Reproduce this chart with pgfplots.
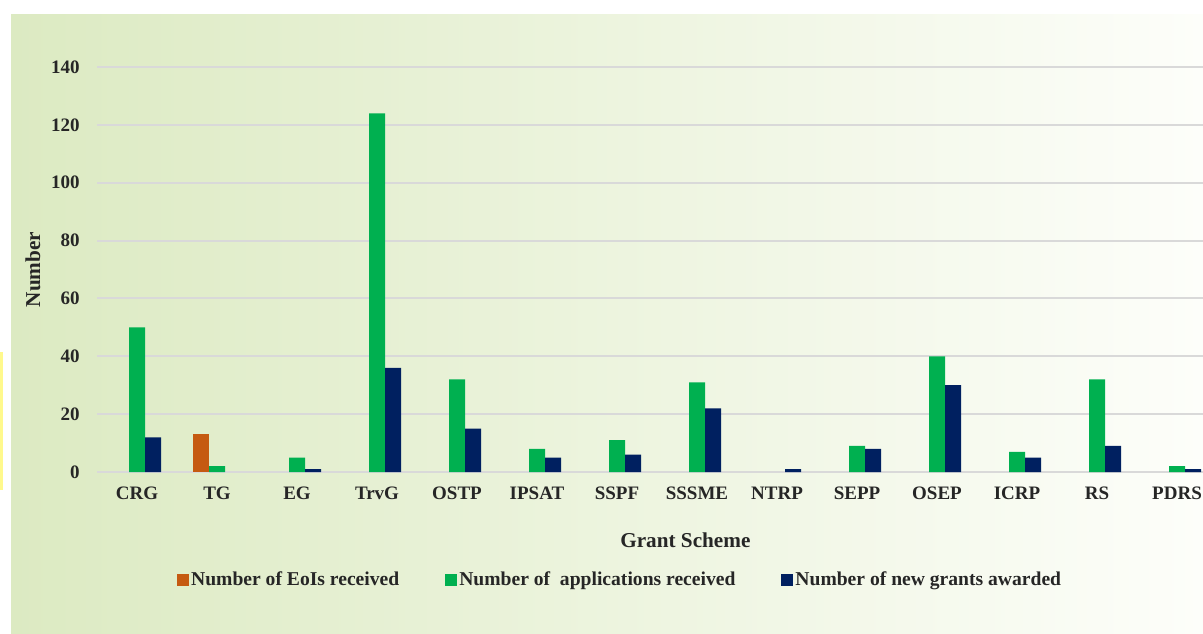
\documentclass[border=0pt]{standalone}
\usepackage{pgfplots}
\pgfplotsset{compat=1.18}
\usepackage{fontspec}
\setmainfont{Liberation Serif}

\definecolor{eoi}{HTML}{C55A11}
\definecolor{apps}{HTML}{00B050}
\definecolor{awarded}{HTML}{002060}
\definecolor{txt}{HTML}{262626}
\definecolor{gridc}{HTML}{D9D9D9}
\definecolor{bgleft}{RGB}{220,234,194}
\definecolor{bgright}{RGB}{253,254,250}

\begin{document}
\begin{tikzpicture}[x=0.5pt,y=0.5pt]
\useasboundingbox (0,0) rectangle (1203,633);
\clip (0,0) rectangle (1203,633);
\fill[white] (0,0) rectangle (1203,633);
\shade[left color=bgleft,right color=bgright] (11,0) rectangle (1203,618);
\fill[yellow!45] (0,143) rectangle (3,281);

\begin{axis}[
    at={(48.5pt,80.5pt)}, anchor=south west,
    scale only axis, width=553pt, height=202.5pt,
    ybar, bar width=8pt, ybar=0pt,
    xmin=-0.5, xmax=13.325,
    ymin=0, ymax=140,
    ytick={0,20,...,140},
    xtick={0,...,13},
    xticklabels={CRG,TG,EG,TrvG,OSTP,IPSAT,SSPF,SSSME,NTRP,SEPP,OSEP,ICRP,RS,PDRS},
    major tick length=0pt,
    axis line style={draw=none},
    ymajorgrids, major grid style={color=gridc, line width=1pt},
    font=\fontsize{9.5}{11}\selectfont\bfseries,
    /pgf/number format/assume math mode=true,
    ticklabel style={text=txt, inner sep=0pt},
    yticklabel style={xshift=-8.5pt},
    xticklabel style={yshift=-7.5pt},
    xlabel={Grant Scheme},
    ylabel={Number},
    label style={text=txt, font=\fontsize{10.6}{12}\selectfont\bfseries},
    xlabel style={at={(0.532,-0.168)}, anchor=center},
    ylabel style={at={(-0.0579,0.5)}, anchor=center},
    legend columns=3,
    legend style={at={(0.473,-0.267)}, anchor=center, draw=none, fill=none,
        text=txt, font=\fontsize{9.8}{11}\selectfont\bfseries,
        /tikz/every even column/.append style={column sep=22pt},
        nodes={inner xsep=1pt}},
    legend image code/.code={\fill[#1] (0pt,-3pt) rectangle (6pt,3pt);},
]
\addplot[fill=eoi, draw=none] coordinates {(1,13)};
\addplot[fill=apps, draw=none] coordinates {
    (0,50) (1,2) (2,5) (3,124) (4,32) (5,8) (6,11) (7,31)
    (9,9) (10,40) (11,7) (12,32) (13,2)};
\addplot[fill=awarded, draw=none] coordinates {
    (0,12) (2,1) (3,36) (4,15) (5,5) (6,6) (7,22) (8,1)
    (9,8) (10,30) (11,5) (12,9) (13,1)};
\legend{Number of EoIs received, Number of\ \ applications received, Number of new grants awarded}
\end{axis}
\end{tikzpicture}
\end{document}
